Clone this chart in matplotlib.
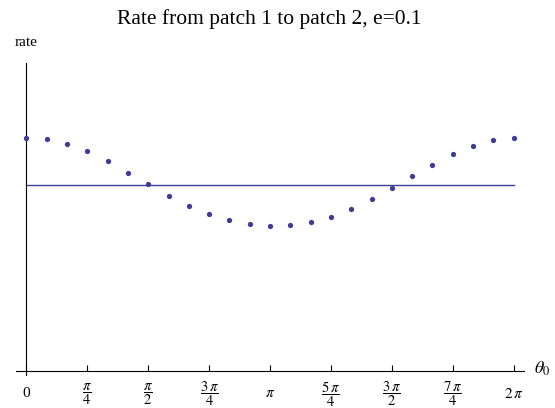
import numpy as np
import matplotlib.pyplot as plt

plt.rcParams['font.family'] = ['Liberation Serif', 'DejaVu Serif']
plt.rcParams['mathtext.fontset'] = 'stix'

# sample angles theta_0 = k * 2pi / 24
k = np.arange(25)
theta = k * 2 * np.pi / 24
rate = [1.253, 1.248, 1.222, 1.183, 1.131, 1.068, 1.005, 0.944, 0.890, 0.844,
        0.812, 0.790, 0.782, 0.786, 0.804, 0.831, 0.874, 0.928, 0.987, 1.052,
        1.111, 1.169, 1.213, 1.242, 1.253]
mean_rate = 1.0

tick_pos = np.arange(9) * np.pi / 4
tick_labels = ['0', r'$\dfrac{\pi}{4}$', r'$\dfrac{\pi}{2}$', r'$\dfrac{3\,\pi}{4}$', r'$\pi$',
               r'$\dfrac{5\,\pi}{4}$', r'$\dfrac{3\,\pi}{2}$', r'$\dfrac{7\,\pi}{4}$', r'$2\,\pi$']

col = '#3d3d99'

fig = plt.figure(figsize=(5.55, 4.08), dpi=100)
ax = fig.add_axes([16 / 555, 33 / 408, 508 / 555, 312 / 408])

ax.plot(theta, rate, 'o', color=col, markersize=3.8, markeredgewidth=0, zorder=3)
ax.plot([0, 2 * np.pi], [mean_rate, mean_rate], color=col, linewidth=1.0)

ax.set_xlim(-0.135, 6.417)
ax.set_ylim(-0.022, 1.658)

for s in ['top', 'right']:
    ax.spines[s].set_visible(False)
ax.spines['left'].set_position(('data', 0))
ax.spines['bottom'].set_position(('data', 0))
ax.spines['left'].set_linewidth(0.8)
ax.spines['bottom'].set_linewidth(0.8)

ax.set_xticks(tick_pos)
ax.set_xticklabels(tick_labels)
ax.tick_params(axis='x', direction='in', length=4, width=0.8, pad=16.5)
for i, lbl in enumerate(ax.get_xticklabels()):
    lbl.set_va('center')
    lbl.set_fontsize(11 if i in (0, 4, 8) else 10.5)
ax.set_yticks([])

fig.text(269.5 / 555, 1 - 19 / 408, 'Rate from patch 1 to patch 2, e=0.1',
         fontsize=15.5, ha='center', va='center')
fig.text(26 / 555, 1 - 43 / 408, 'rate', fontsize=11, ha='center', va='center')
fig.text(542 / 555, 1 - 369 / 408, r'$\theta_0$', fontsize=13, ha='center', va='center')

plt.savefig('out.png', dpi=100)
